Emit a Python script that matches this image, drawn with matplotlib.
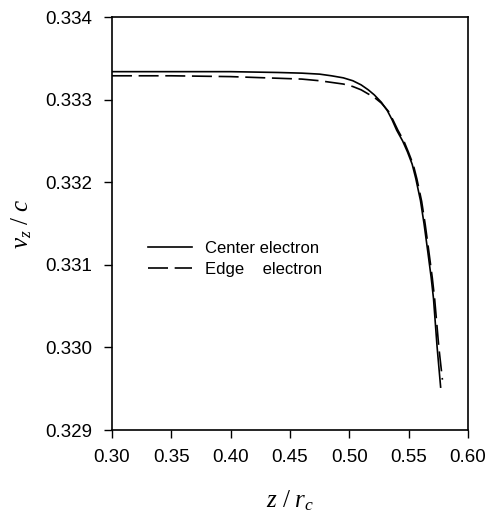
"""Axial velocity of center and edge electrons vs. normalized position."""
import matplotlib

matplotlib.use("Agg")
import matplotlib.pyplot as plt

# values
z_center = [0.30, 0.35, 0.40, 0.44, 0.46, 0.475, 0.485, 0.495, 0.503, 0.510,
            0.516, 0.521, 0.527, 0.532, 0.536, 0.540, 0.545, 0.549, 0.553,
            0.556, 0.560, 0.563, 0.566, 0.569, 0.571, 0.574, 0.577]
v_center = [0.33334, 0.33334, 0.33334, 0.33333, 0.333322, 0.33331, 0.33329,
            0.333265, 0.33323, 0.33318, 0.33312, 0.33306, 0.33297, 0.33287,
            0.33276, 0.33263, 0.33250, 0.33237, 0.33222, 0.33205, 0.33178,
            0.33150, 0.33118, 0.33085, 0.33059, 0.33001, 0.32952]

z_edge = [0.30, 0.35, 0.40, 0.44, 0.46, 0.475, 0.485, 0.495, 0.503, 0.510,
          0.516, 0.521, 0.527, 0.533, 0.537, 0.541, 0.546, 0.550, 0.554,
          0.557, 0.561, 0.564, 0.567, 0.570, 0.572, 0.5755, 0.5785]
v_edge = [0.33329, 0.33329, 0.33328, 0.33326, 0.33325, 0.33323, 0.33321,
          0.33319, 0.33316, 0.33312, 0.33307, 0.33303, 0.33296, 0.33286,
          0.33275, 0.33263, 0.33250, 0.33236, 0.33221, 0.33204, 0.33177,
          0.33149, 0.33117, 0.33084, 0.33058, 0.33000, 0.32961]

x_ticks = [0.30, 0.35, 0.40, 0.45, 0.50, 0.55, 0.60]
y_ticks = [0.329, 0.330, 0.331, 0.332, 0.333, 0.334]

plt.rcParams["font.family"] = ["Liberation Sans", "DejaVu Sans"]
plt.rcParams["mathtext.fontset"] = "custom"
plt.rcParams["mathtext.rm"] = "Liberation Serif"
plt.rcParams["mathtext.it"] = "Liberation Serif:italic"

fig = plt.figure(figsize=(4.91, 5.20), dpi=100)
ax = fig.add_axes([0.228, 0.173, 0.725, 0.794])

ax.plot(z_center, v_center, color="black", lw=1.2, label="Center electron")
ax.plot(z_edge, v_edge, color="black", lw=1.2, dashes=(12, 4),
        label="Edge    electron")

ax.set_xlim(0.30, 0.60)
ax.set_ylim(0.329, 0.334)
ax.set_xticks(x_ticks)
ax.set_yticks(y_ticks)
ax.set_xticklabels([f"{t:.2f}" for t in x_ticks])
ax.set_yticklabels([f"{t:.3f}" for t in y_ticks])
ax.tick_params(direction="out", length=6, width=1.0, labelsize=13.5, pad=8)
for sp in ax.spines.values():
    sp.set_linewidth(1.2)

ax.set_xlabel(r"$z\ /\ r_c$", fontsize=18, labelpad=16)
ax.set_ylabel(r"$v_z\ /\ c$", fontsize=18, labelpad=8)

ax.legend(loc="center left", bbox_to_anchor=(0.06, 0.414), frameon=False,
          fontsize=12, handlelength=2.6, handletextpad=0.8, labelspacing=0.35)

fig.savefig("out.png", dpi=100)
